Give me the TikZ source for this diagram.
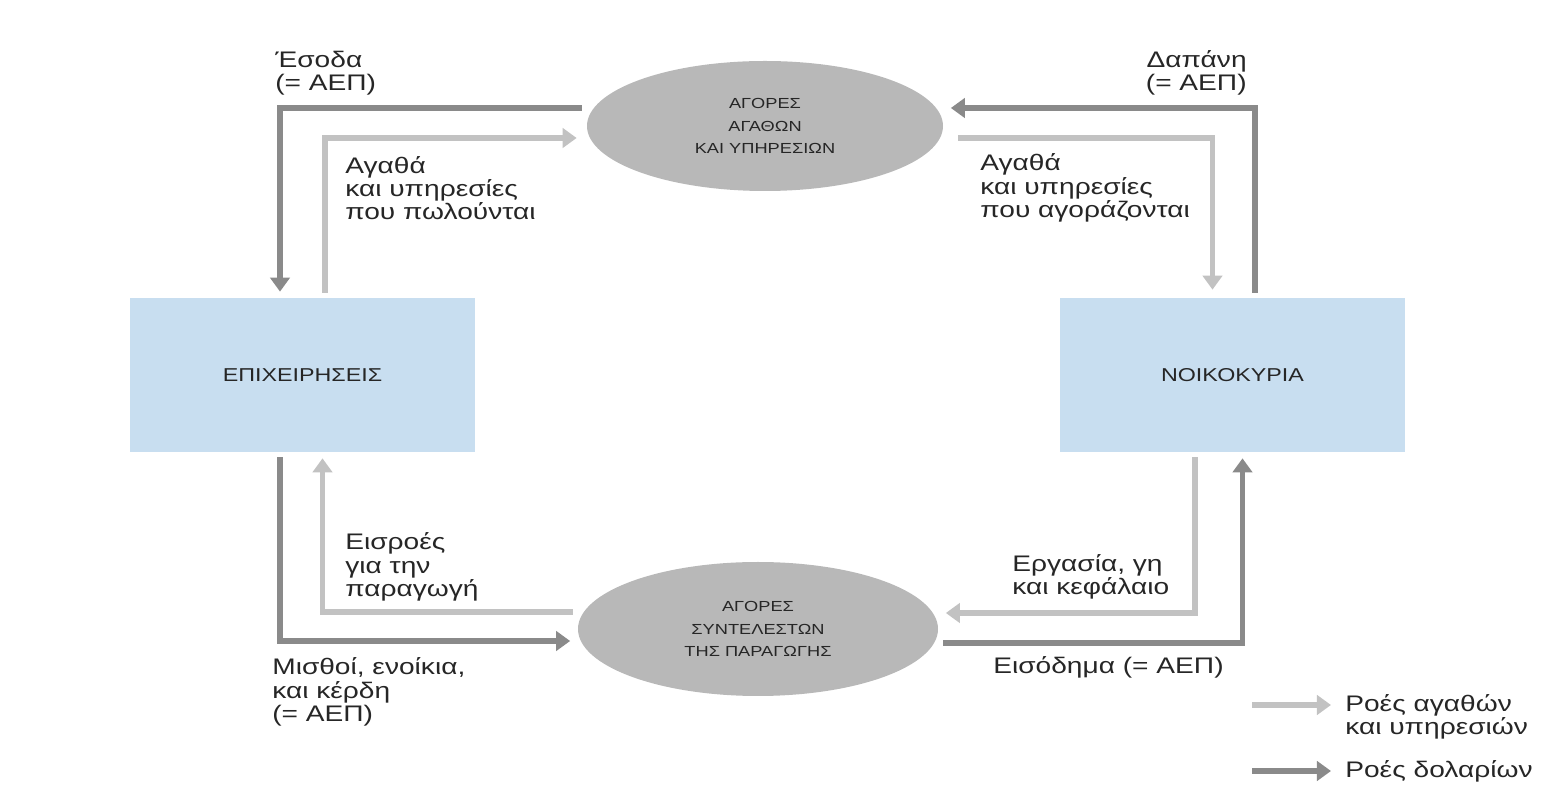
\documentclass[tikz,border=0pt]{standalone}
\usepackage{fontspec}
\setmainfont{Liberation Sans}[FakeStretch=1.25]
\usetikzlibrary{arrows.meta,shapes.geometric}
\definecolor{goodsgray}{HTML}{C2C2C2}
\definecolor{dollargray}{HTML}{8A8A8A}
\definecolor{marketgray}{HTML}{B8B8B8}
\definecolor{agentblue}{HTML}{C8DEF0}
\begin{document}
\begin{tikzpicture}[
  goods/.style={color=goodsgray,line width=3.4pt,-{Triangle[length=8pt,width=11pt]}},
  dollars/.style={color=dollargray,line width=3.4pt,-{Triangle[length=8pt,width=11pt]}},
  market/.style={ellipse,fill=marketgray,inner sep=0pt,align=center,text=black!85,font=\fontsize{8.3}{12.8}\selectfont},
  agent/.style={rectangle,fill=agentblue,minimum width=6.9cm,minimum height=3.08cm,text=black!85,font=\fontsize{10.6}{13}\selectfont},
  lbl/.style={align=left,anchor=west,inner sep=0pt,text=black!85,font=\fontsize{12.8}{13.2}\selectfont}]
\useasboundingbox (0,0) rectangle (31.02,-15.86);
\node[market,minimum width=7.12cm,minimum height=2.6cm] (mgoods) at (15.3,-2.52) {ΑΓΟΡΕΣ\\ΑΓΑΘΩΝ\\ΚΑΙ ΥΠΗΡΕΣΙΩΝ};
\node[market,minimum width=7.2cm,minimum height=2.68cm] (mfactors) at (15.16,-12.58) {ΑΓΟΡΕΣ\\ΣΥΝΤΕΛΕΣΤΩΝ\\ΤΗΣ ΠΑΡΑΓΩΓΗΣ};
\node[agent] (firms) at (6.05,-7.5) {ΕΠΙΧΕΙΡΗΣΕΙΣ};
\node[agent] (house) at (24.65,-7.5) {ΝΟΙΚΟΚΥΡΙΑ};
\draw[dollars] ([shift={(-0.1,0.36)}]mgoods.west) -| ([shift={(-0.45,0.12)}]firms.north);
\draw[goods] ([shift={(0.45,0.1)}]firms.north) |- ([shift={(-0.2,-0.24)}]mgoods.west);
\draw[dollars] ([shift={(0.45,0.1)}]house.north) |- ([shift={(0.15,0.36)}]mgoods.east);
\draw[goods] ([shift={(0.3,-0.24)}]mgoods.east) -| ([shift={(-0.4,0.16)}]house.north);
\draw[dollars] ([shift={(-0.45,-0.1)}]firms.south) |- ([shift={(-0.15,-0.24)}]mfactors.west);
\draw[goods] ([shift={(-0.1,0.34)}]mfactors.west) -| ([shift={(0.4,-0.12)}]firms.south);
\draw[goods] ([shift={(-0.75,-0.1)}]house.south) |- ([shift={(0.15,0.32)}]mfactors.east);
\draw[dollars] ([shift={(0.1,-0.28)}]mfactors.east) -| ([shift={(0.2,-0.12)}]house.south);
\node[lbl] (inc) at (5.5,-1.46) {Έσοδα\\(= ΑΕΠ)};
\node[lbl,align=right,anchor=east] (spend) at (24.94,-1.46) {Δαπάνη\\(= ΑΕΠ)};
\node[lbl] (sold) at (6.9,-3.76) {Αγαθά\\και υπηρεσίες\\που πωλούνται};
\node[lbl] (bought) at (19.6,-3.76) {Αγαθά\\και υπηρεσίες\\που αγοράζονται};
\node[lbl] (inputs) at (6.9,-11.34) {Εισροές\\για την\\παραγωγή};
\node[lbl] (wages) at (5.44,-13.84) {Μισθοί, ενοίκια,\\και κέρδη\\(= ΑΕΠ)};
\node[lbl] (labour) at (20.24,-11.54) {Εργασία, γη\\και κεφάλαιο};
\node[lbl] (income) at (19.86,-13.34) {Εισόδημα (= ΑΕΠ)};
\coordinate (gleft) at (25.04,-14.1);
\coordinate (gright) at (26.62,-14.1);
\coordinate (dleft) at (25.04,-15.42);
\coordinate (dright) at (26.62,-15.42);
\draw[goods] (gleft) -- (gright);
\draw[dollars] (dleft) -- (dright);
\node[lbl] (leggoods) at (26.9,-14.33) {Ροές αγαθών\\και υπηρεσιών};
\node[lbl] (legdollars) at (26.9,-15.42) {Ροές δολαρίων};
\end{tikzpicture}
\end{document}
